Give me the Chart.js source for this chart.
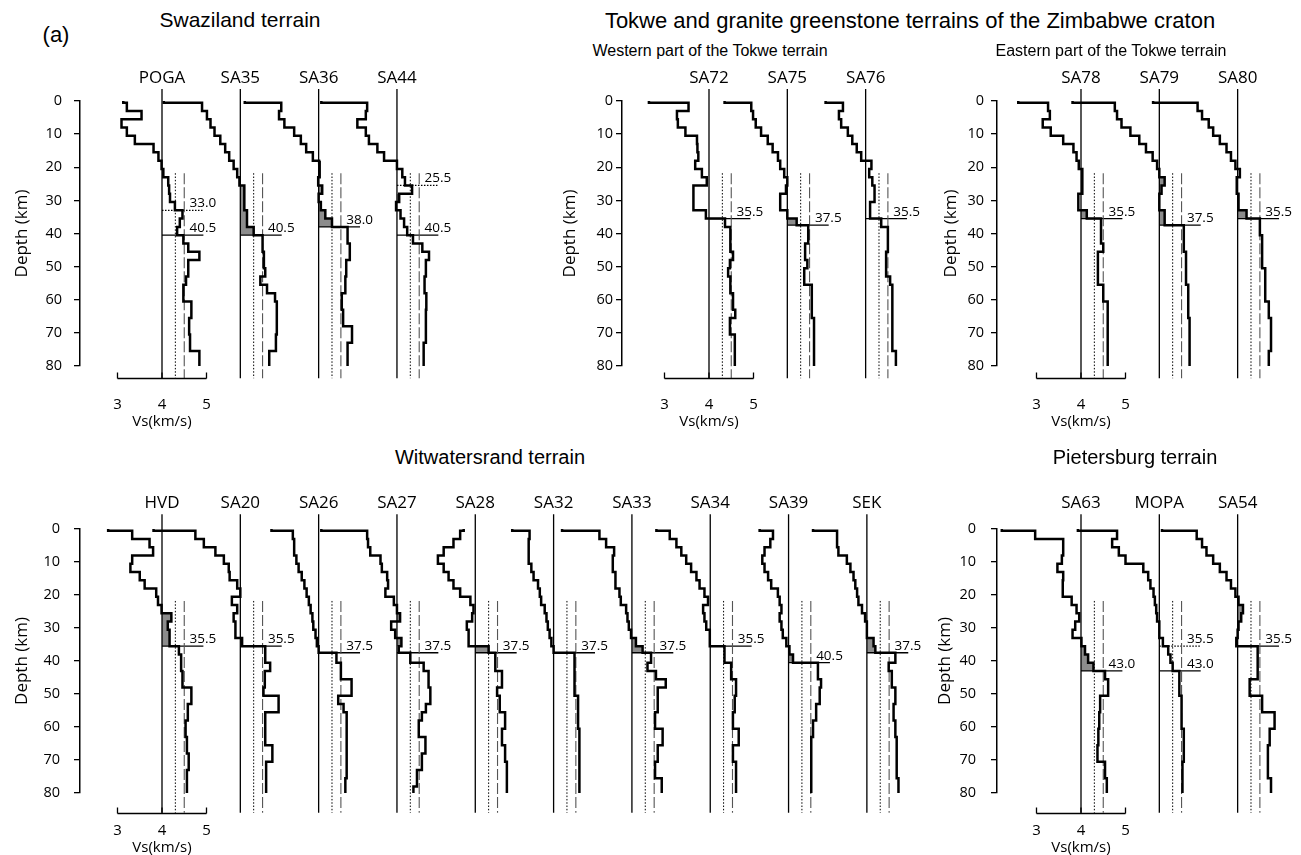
<!DOCTYPE html>
<html>
<head>
<meta charset="utf-8">
<script src="https://cdn.jsdelivr.net/npm/chart.js@4.4.1/dist/chart.umd.min.js"></script>
<style>
  body { margin: 0; width: 1301px; height: 855px; background: #fff; position: relative; overflow: hidden; }
  canvas { position: absolute; }
  .title { position: absolute; transform: translate(-50%, -50%); white-space: nowrap; color: #000;
           font-family: "Liberation Sans", Arial, sans-serif; z-index: 2; }
</style>
</head>
<body>
<div class="title" style="left:56px;top:35px;font-size:22px">(a)</div>
<div class="title" style="left:240px;top:20px;font-size:21px">Swaziland terrain</div>
<div class="title" style="left:910px;top:21px;font-size:22px">Tokwe and granite greenstone terrains of the Zimbabwe craton</div>
<div class="title" style="left:710px;top:51px;font-size:16px">Western part of the Tokwe terrain</div>
<div class="title" style="left:1111px;top:51px;font-size:16px">Eastern part of the Tokwe terrain</div>
<div class="title" style="left:490px;top:457px;font-size:20px">Witwatersrand terrain</div>
<div class="title" style="left:1135px;top:457px;font-size:20px">Pietersburg terrain</div>

<canvas id="swazi" width="470" height="380" style="left:0;top:60px"></canvas>
<canvas id="tokweW" width="385" height="380" style="left:542px;top:60px"></canvas>
<canvas id="tokweE" width="384" height="380" style="left:917px;top:60px"></canvas>
<canvas id="witw" width="935" height="365" style="left:0;top:490px"></canvas>
<canvas id="piet" width="384" height="365" style="left:917px;top:490px"></canvas>

<script>
// Shear-wave velocity models: [top of layer (km), Vs (km/s)], each layer runs to the next top (last one to 80 km)
const POGA = [[0,3.13],[0.5,3.21],[3,3.54],[5.5,3.09],[8,3.21],[10.5,3.39],[13,3.81],[15.5,3.92],[18,3.99],[20.5,4.03],[23,4.14],[25.5,4.16],[28,4.18],[30.5,4.29],[33,4.46],[35.5,4.40],[38,4.34],[40.5,4.48],[43,4.59],[45.5,4.84],[48,4.59],[53,4.54],[55.5,4.48],[60.5,4.66],[65.5,4.61],[70.5,4.63],[75.5,4.84]];
const SA35 = [[0,2.28],[0.5,3.14],[3,3.25],[5.5,3.33],[8,3.42],[10.5,3.55],[13,3.66],[15.5,3.75],[18,3.85],[20.5,3.93],[23,3.98],[25.5,4.09],[33,4.15],[38,4.3],[40.5,4.5],[45.5,4.53],[50.5,4.56],[53,4.45],[55.5,4.6],[58,4.78],[60.5,4.82],[70.5,4.8],[75.5,4.65]];
const SA36 = [[0,2.34],[0.5,3.16],[3,3.11],[5.5,3.23],[8,3.45],[10.5,3.6],[13,3.72],[15.5,3.87],[18,4.01],[20.5,4.03],[23,3.99],[25.5,4.08],[28,4.0],[30.5,4.05],[33,4.15],[35.5,4.3],[38,4.65],[43,4.7],[48,4.62],[53,4.6],[58,4.52],[63,4.55],[68,4.75],[73,4.65]];
const SA44 = [[0,2.3],[0.5,3.33],[3,3.3],[5.5,3.11],[8,3.3],[10.5,3.37],[13,3.56],[15.5,3.71],[18,4.0],[20.5,4.12],[23,4.18],[25.5,4.34],[28,4.05],[30.5,3.98],[33,4.08],[35.5,4.16],[38,4.23],[40.5,4.36],[43,4.57],[45.5,4.72],[48,4.65],[53,4.62],[58,4.66],[63,4.65],[73,4.6]];

const SA72 = [[0,2.65],[0.5,3.54],[3,3.28],[5.5,3.3],[8,3.47],[10.5,3.73],[13,3.74],[15.5,3.76],[18,3.69],[20.5,3.84],[23,3.95],[25.5,3.65],[33,3.93],[35.5,4.36],[38,4.48],[45.5,4.54],[48,4.47],[50.5,4.43],[53,4.48],[58,4.54],[63,4.59],[65.5,4.47],[70.5,4.58]];
const SA75 = [[0,2.59],[0.5,3.19],[3,3.23],[5.5,3.29],[8,3.41],[10.5,3.56],[13,3.67],[15.5,3.79],[18,3.84],[20.5,3.93],[23,4.0],[25.5,3.97],[28,3.84],[33,4.0],[35.5,4.21],[37.5,4.47],[43,4.4],[48,4.45],[50.5,4.38],[55.5,4.55],[65.5,4.6]];
const SA76 = [[0,3.1],[0.5,3.49],[3,3.4],[5.5,3.45],[8,3.6],[10.5,3.7],[13,3.8],[15.5,3.9],[18,4.13],[20.5,4.08],[23,4.15],[25.5,4.2],[30.5,4.1],[35.5,4.35],[38,4.5],[45.5,4.46],[53,4.55],[55.5,4.6],[75.5,4.68]];

const SA78 = [[0,2.59],[0.5,3.26],[3,3.3],[5.5,3.14],[8,3.32],[10.5,3.6],[13,3.83],[15.5,3.9],[18,3.95],[20.5,4.03],[28,3.94],[33,4.13],[35.5,4.45],[43,4.5],[45.5,4.38],[55.5,4.5],[60.5,4.6]];
const SA79 = [[0,2.05],[0.5,3.0],[3,3.05],[5.5,3.15],[8,3.35],[10.5,3.55],[13,3.7],[15.5,3.85],[18,3.95],[20.5,4.0],[23,4.12],[25.5,4.05],[28,4.0],[33,4.12],[37.5,4.55],[45.5,4.6],[55.5,4.65],[65.5,4.68]];
const SA80 = [[0,2.1],[0.5,3.1],[3,3.2],[5.5,3.35],[8,3.45],[10.5,3.6],[13,3.75],[15.5,3.85],[18,3.95],[20.5,4.05],[23,3.98],[28,4.02],[33,4.2],[35.5,4.5],[40.5,4.55],[50.5,4.62],[60.5,4.7],[65.5,4.75],[75.5,4.7]];

const HVD  = [[0,2.79],[0.5,3.33],[3,3.72],[5.5,3.8],[8,3.33],[10.5,3.29],[13,3.5],[15.5,3.61],[18,3.87],[20.5,3.91],[23,3.99],[25.5,4.21],[28,4.13],[30.5,4.17],[35.5,4.38],[38,4.43],[43,4.46],[48,4.66],[53,4.58],[58,4.53],[63,4.56],[68,4.6],[73,4.56]];
const SA20 = [[0,2.05],[0.5,2.99],[3,3.18],[5.5,3.44],[8,3.63],[10.5,3.74],[13,3.76],[15.5,3.93],[18,4.0],[20.5,3.81],[23,3.93],[25.5,3.85],[28,3.89],[33,4.04],[35.5,4.56],[40.5,4.67],[43,4.55],[48,4.52],[50.5,4.86],[55.5,4.56],[65.5,4.72],[70.5,4.58]];
const SA26 = [[0,2.94],[0.5,3.42],[3,3.45],[8,3.5],[10.5,3.55],[13,3.62],[15.5,3.68],[18,3.73],[20.5,3.78],[23,3.82],[25.5,3.86],[28,3.88],[30.5,3.93],[33,3.96],[35.5,4.0],[37.5,4.4],[40.5,4.5],[45.5,4.74],[50.5,4.44],[53,4.56],[55.5,4.63],[75.5,4.6]];
const SA27 = [[0,2.3],[0.5,3.33],[3,3.35],[5.5,3.4],[8,3.63],[10.5,3.66],[13,3.78],[15.5,3.8],[18,3.74],[20.5,3.93],[23,4.0],[25.5,4.07],[28,3.87],[30.5,3.96],[33,4.1],[35.5,4.04],[37.5,4.3],[40.5,4.6],[43,4.71],[48,4.75],[53,4.65],[55.5,4.56],[58,4.49],[63,4.64],[68,4.56],[73,4.45],[78,4.37]];
const SA28 = [[0,3.74],[0.5,3.66],[3,3.51],[5.5,3.29],[8,3.16],[10.5,3.29],[13,3.4],[15.5,3.51],[18,3.66],[20.5,3.89],[23,3.96],[25.5,3.93],[28,3.81],[30.5,3.85],[35.5,4.3],[37.5,4.45],[43,4.6],[48,4.49],[50.5,4.55],[55.5,4.67],[60.5,4.6],[65.5,4.67],[70.5,4.71]];
const SA32 = [[0,3.07],[0.5,3.46],[3,3.44],[10.5,3.5],[13,3.55],[15.5,3.65],[18,3.69],[20.5,3.72],[23,3.8],[25.5,3.84],[28,3.87],[30.5,3.91],[33,3.95],[35.5,4.0],[37.5,4.47],[50.5,4.55],[60.5,4.58]];
const SA33 = [[0,2.43],[0.5,3.27],[3,3.42],[5.5,3.6],[8,3.57],[13,3.63],[18,3.72],[20.5,3.75],[23,3.87],[25.5,3.9],[28,3.93],[30.5,3.98],[33,4.09],[35.5,4.24],[37.5,4.43],[40.5,4.35],[43,4.54],[45.5,4.76],[48,4.58],[55.5,4.52],[60.5,4.69],[65.5,4.58],[70.5,4.52],[75.5,4.67]];
const SA34 = [[0,2.79],[0.5,3.09],[3,3.24],[5.5,3.35],[8,3.46],[10.5,3.57],[13,3.69],[15.5,3.76],[18,3.87],[20.5,3.95],[23,3.84],[25.5,3.87],[28,3.91],[30.5,3.99],[35.5,4.32],[40.5,4.47],[45.5,4.58],[50.5,4.55],[55.5,4.51],[60.5,4.64],[65.5,4.51],[70.5,4.58]];
const SA39 = [[0,3.35],[0.5,3.65],[3,3.59],[5.5,3.46],[8,3.41],[10.5,3.46],[13,3.54],[15.5,3.61],[18,3.76],[20.5,3.8],[23,3.84],[25.5,3.8],[28,3.84],[30.5,3.87],[33,3.95],[35.5,4.02],[38,4.1],[40.5,4.66],[45.5,4.73],[48,4.7],[53,4.62],[58,4.55],[63,4.51]];
const SEK  = [[0,2.79],[0.5,3.33],[5.5,3.36],[8,3.55],[10.5,3.63],[13,3.7],[15.5,3.74],[18,3.78],[20.5,3.81],[23,3.89],[25.5,3.96],[28,4.0],[33,4.15],[35.5,4.19],[37.5,4.64],[40.5,4.49],[43,4.56],[48,4.64],[53,4.6],[58,4.64],[63,4.67],[75.5,4.71]];

const SA63 = [[0,2.22],[0.5,2.97],[3,3.6],[8,3.57],[10.5,3.47],[13,3.6],[15.5,3.59],[20.5,3.79],[23,3.9],[25.5,3.96],[28,3.87],[30.5,3.81],[33,4.01],[35.5,4.09],[38,4.16],[40.5,4.28],[43,4.54],[45.5,4.61],[50.5,4.43],[55.5,4.41],[60.5,4.39],[65.5,4.37],[70.5,4.54],[75.5,4.58]];
const MOPA = [[0,2.17],[0.5,3.05],[3,2.94],[5.5,3.09],[8,3.24],[10.5,3.64],[13,3.75],[15.5,3.8],[18,3.87],[20.5,3.9],[23,3.93],[25.5,3.95],[28,4.0],[33,4.08],[35.5,4.2],[38,4.25],[40.5,4.3],[43,4.45],[50.5,4.5],[60.5,4.55],[70.5,4.52]];
const SA54 = [[0,2.3],[0.5,3.08],[3,3.2],[5.5,3.3],[8,3.45],[10.5,3.6],[13,3.75],[15.5,3.85],[18,3.95],[20.5,4.02],[23,4.12],[25.5,4.08],[28,4.02],[30.5,4.0],[33,3.97],[35.5,4.45],[45.5,4.27],[50.5,4.55],[55.5,4.83],[60.5,4.72],[65.5,4.68],[75.5,4.75]];

const profiles = { POGA, SA35, SA36, SA44, SA72, SA75, SA76, SA78, SA79, SA80,
  HVD, SA20, SA26, SA27, SA28, SA32, SA33, SA34, SA39, SEK, SA63, MOPA, SA54 };

// Moho depth picked for every station (solid marker) and intra-crustal picks (dotted marker)
const mohoDepth = { POGA: 40.5, SA35: 40.5, SA36: 38.0, SA44: 40.5, SA72: 35.5, SA75: 37.5, SA76: 35.5,
  SA78: 35.5, SA79: 37.5, SA80: 35.5, HVD: 35.5, SA20: 35.5, SA26: 37.5, SA27: 37.5, SA28: 37.5,
  SA32: 37.5, SA33: 37.5, SA34: 35.5, SA39: 40.5, SEK: 37.5, SA63: 43.0, MOPA: 43.0, SA54: 35.5 };
const dottedPick = { POGA: 33.0, SA44: 25.5, MOPA: 35.5 };

// depth ranges of the shaded (Vs > 4 km/s) lower-crust layers
const shaded = { SA35: [[25.5, 40.5]], SA36: [[25.5, 28], [30.5, 38]], SA44: [[28, 30.5]],
  SA75: [[35.5, 37.5]], SA78: [[20.5, 28], [33, 35.5]], SA79: [[23, 28], [33, 37.5]], SA80: [[33, 35.5]],
  HVD: [[25.5, 35.5]], SA27: [[25.5, 28], [33, 35.5]], SA28: [[35.5, 37.5]], SA33: [[33, 37.5]],
  SA39: [[38, 40.5]], SEK: [[33, 37.5]], SA63: [[35.5, 43]], SA54: [[23, 30.5]] };

const refVs = [4.3, 4.5];         // dotted and dashed reference velocities
const vsTicks = [3, 4, 5];
const depthTicks = [0, 10, 20, 30, 40, 50, 60, 70, 80];

const PX = 44.5;    // pixels per km/s
const STEP = 1.76;  // offset between neighbouring stations (km/s)
const TICK_FONT = '"Open Sans", "Noto Sans", sans-serif';

const panels = [
  { id: 'swazi', stations: ['POGA', 'SA35', 'SA36', 'SA44'], left: 0, top: 60, axisX: 80, firstX: 162,
    d0: 101, d80: 366, lineTop: -3.6, base: 83.7, labDy: 26, titDy: 43, tickPad: 12, titlePad: 12 },
  { id: 'tokweW', stations: ['SA72', 'SA75', 'SA76'], left: 542, top: 60, axisX: 622, firstX: 709,
    d0: 101, d80: 366, lineTop: -3.6, base: 83.7, labDy: 26, titDy: 43, tickPad: 3, titlePad: 18 },
  { id: 'tokweE', stations: ['SA78', 'SA79', 'SA80'], left: 917, top: 60, axisX: 997, firstX: 1081,
    d0: 101, d80: 366, lineTop: -3.6, base: 83.7, labDy: 26, titDy: 43, tickPad: 7, titlePad: 24 },
  { id: 'witw', stations: ['HVD', 'SA20', 'SA26', 'SA27', 'SA28', 'SA32', 'SA33', 'SA34', 'SA39', 'SEK'],
    left: 0, top: 490, axisX: 80, firstX: 162, d0: 529, d80: 793, lineTop: -4.5, base: 86, labDy: 17, titDy: 34,
    tickPad: 14, titlePad: 12 },
  { id: 'piet', stations: ['SA63', 'MOPA', 'SA54'], left: 917, top: 490, axisX: 997, firstX: 1081,
    d0: 529, d80: 793, lineTop: -4.5, base: 86, labDy: 17, titDy: 34, tickPad: 15, titlePad: 18 }
];

// turn a layered model into the corner points of its staircase
function stepPoints(layers, off, from = 0, to = 80) {
  const pts = [];
  layers.forEach(([top, vs], i) => {
    const bottom = i + 1 < layers.length ? layers[i + 1][0] : 80;
    const a = Math.max(top, from), b = Math.min(bottom, to);
    if (b > a) pts.push({ x: vs + off, y: a }, { x: vs + off, y: b });
  });
  return pts;
}

function line(points, extra) {
  return Object.assign({ data: points, borderColor: '#000', borderWidth: 1.2, pointRadius: 0,
    fill: false, clip: false, order: 1 }, extra);
}

function buildDatasets(p) {
  const sets = [];
  p.stations.forEach((name, i) => {
    const off = i * STEP;
    sets.push(line([{ x: 4 + off, y: p.lineTop }, { x: 4 + off, y: p.base }], { borderWidth: 1.3 }));
    sets.push(line([{ x: refVs[0] + off, y: 21.8 }, { x: refVs[0] + off, y: p.base }],
      { borderWidth: 1, borderDash: [1.5, 1.8] }));
    sets.push(line([{ x: refVs[1] + off, y: 21.8 }, { x: refVs[1] + off, y: p.base }],
      { borderWidth: 1.1, borderDash: [11, 3], borderColor: '#555' }));
    const m = mohoDepth[name];
    sets.push(line([{ x: 4 + off, y: m }, { x: 4.93 + off, y: m }], { borderWidth: 1.3 }));
    if (dottedPick[name] !== undefined) {
      const d = dottedPick[name];
      sets.push(line([{ x: 4 + off, y: d }, { x: 4.93 + off, y: d }], { borderWidth: 1.2, borderDash: [1.5, 1.5] }));
    }
    (shaded[name] || []).forEach(([a, b]) => {
      sets.push(line(stepPoints(profiles[name], off, a, b), {
        borderWidth: 0, borderColor: 'rgba(0,0,0,0)', backgroundColor: '#8c8c8c',
        fill: { value: 4 + off }, order: 5 }));
    });
    sets.push(line(stepPoints(profiles[name], off), { borderWidth: 2.5, order: 0, borderJoinStyle: 'miter' }));
  });
  return sets;
}

function annotations(p) {
  return {
    id: 'stationText',
    afterDatasetsDraw(chart) {
      const { ctx, scales: { x, y } } = chart;
      ctx.save();
      ctx.fillStyle = '#000';
      ctx.strokeStyle = '#000';
      // station names above their reference lines
      ctx.font = '17px ' + TICK_FONT;
      ctx.textAlign = 'center';
      ctx.textBaseline = 'middle';
      p.stations.forEach((name, i) => {
        ctx.fillText(name, x.getPixelForValue(4 + i * STEP), y.getPixelForValue(p.lineTop) - 11);
      });
      // depth values written on the picks
      ctx.font = '13.5px ' + TICK_FONT;
      ctx.textAlign = 'left';
      ctx.textBaseline = 'alphabetic';
      p.stations.forEach((name, i) => {
        const off = i * STEP;
        const picks = [mohoDepth[name]];
        if (dottedPick[name] !== undefined) picks.push(dottedPick[name]);
        picks.forEach(d => ctx.fillText(d.toFixed(1), x.getPixelForValue(4.62 + off), y.getPixelForValue(d) - 3));
      });
      // short velocity axis under the first station
      const yb = Math.round(y.getPixelForValue(p.base)) + 0.5;
      const x0 = x.getPixelForValue(vsTicks[0]), x1 = x.getPixelForValue(vsTicks[vsTicks.length - 1]);
      ctx.lineWidth = 1.3;
      ctx.beginPath();
      ctx.moveTo(x0, yb); ctx.lineTo(x1, yb);
      vsTicks.forEach(v => { const px = x.getPixelForValue(v); ctx.moveTo(px, yb); ctx.lineTo(px, yb - 6); });
      ctx.stroke();
      ctx.font = '15px ' + TICK_FONT;
      ctx.textAlign = 'center';
      ctx.textBaseline = 'middle';
      vsTicks.forEach(v => ctx.fillText(String(v), x.getPixelForValue(v), yb + p.labDy));
      ctx.fillText('Vs(km/s)', x.getPixelForValue(4), yb + p.titDy);
      ctx.restore();
    }
  };
}

panels.forEach(p => {
  const canvas = document.getElementById(p.id);
  const xmin = 4 - (p.firstX - p.axisX) / PX;
  const xmax = xmin + (canvas.width - (p.axisX - p.left)) / PX;
  new Chart(canvas, {
    type: 'line',
    data: { datasets: buildDatasets(p) },
    options: {
      indexAxis: 'y',
      responsive: false,
      animation: false,
      events: [],
      layout: { padding: { top: p.d0 - p.top, bottom: canvas.height - (p.d80 - p.top), left: 0, right: 0 } },
      plugins: { legend: { display: false }, tooltip: { enabled: false } },
      scales: {
        x: { type: 'linear', display: false, min: xmin, max: xmax },
        y: {
          type: 'linear', reverse: true, min: 0, max: 80, position: 'left',
          afterFit: s => { s.width = p.axisX - p.left; },
          afterBuildTicks: s => { s.ticks = depthTicks.map(v => ({ value: v })); },
          ticks: { color: '#000', padding: p.tickPad, font: { family: TICK_FONT, size: 14.5 } },
          grid: { drawOnChartArea: false, tickLength: 6, color: '#000', lineWidth: 1.3 },
          border: { color: '#000', width: 1.5 },
          title: { display: true, text: 'Depth (km)', color: '#000', padding: { top: p.titlePad, bottom: 0 },
                   font: { family: TICK_FONT, size: 17 } }
        }
      }
    },
    plugins: [annotations(p)]
  });
});
</script>
</body>
</html>
